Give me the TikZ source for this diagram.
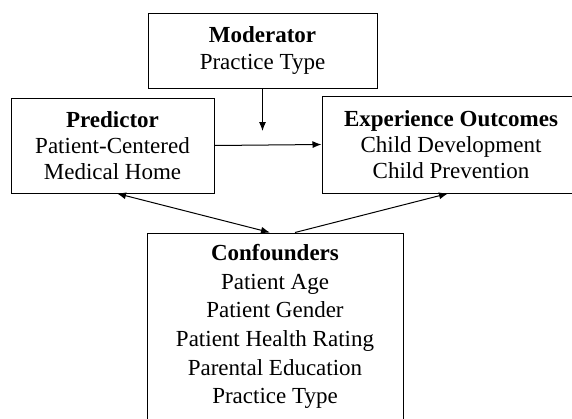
\documentclass[tikz,border=0pt]{standalone}
\usepackage{fontspec}
\setmainfont{Liberation Serif}
\usetikzlibrary{arrows.meta}
\begin{document}
\begin{tikzpicture}[x=1pt,y=-1pt,
  box/.style={draw=black,line width=1pt,rectangle,inner sep=0pt,
    align=center,font=\fontsize{23}{26}\selectfont},
  conn/.style={line width=1pt,-{Latex[length=9pt,width=7pt]}},
  bothconn/.style={line width=1pt,{Latex[length=9pt,width=7pt]}-{Latex[length=9pt,width=7pt]}}]
\useasboundingbox (0,0) rectangle (572,418);
\clip (0,0) rectangle (572,418);
\fill[white] (0,0) rectangle (572,418);

\node[box,minimum width=229pt,minimum height=75pt] (mod) at (262.5,50.5)
  {\textbf{Moderator}\\Practice Type};
\node[box,minimum width=203pt,minimum height=95pt] (pred) at (112.5,145.5)
  {\textbf{Predictor}\\Patient-Centered\\Medical Home};
\node[box,minimum width=258pt,minimum height=97pt] (out) at (451,144.5)
  {\textbf{Experience Outcomes}\\Child Development\\Child Prevention};
\node[box,minimum width=256pt,minimum height=187pt,
  font=\fontsize{23}{28.6}\selectfont] (conf) at (275,326.5)
  {\textbf{Confounders}\\Patient Age\\Patient Gender\\Patient Health Rating\\Parental Education\\Practice Type};

\coordinate (modend) at (mod.south |- 0,131);

\draw[conn] (mod.south) -- (modend);
\draw[conn] (pred.east) -- (out.west);
\draw[bothconn] ([xshift=-5pt]conf.north) -- ([xshift=4.5pt]pred.south);
\draw[conn] ([xshift=20pt]conf.north) -- ([xshift=-3pt]out.south);
\end{tikzpicture}
\end{document}
